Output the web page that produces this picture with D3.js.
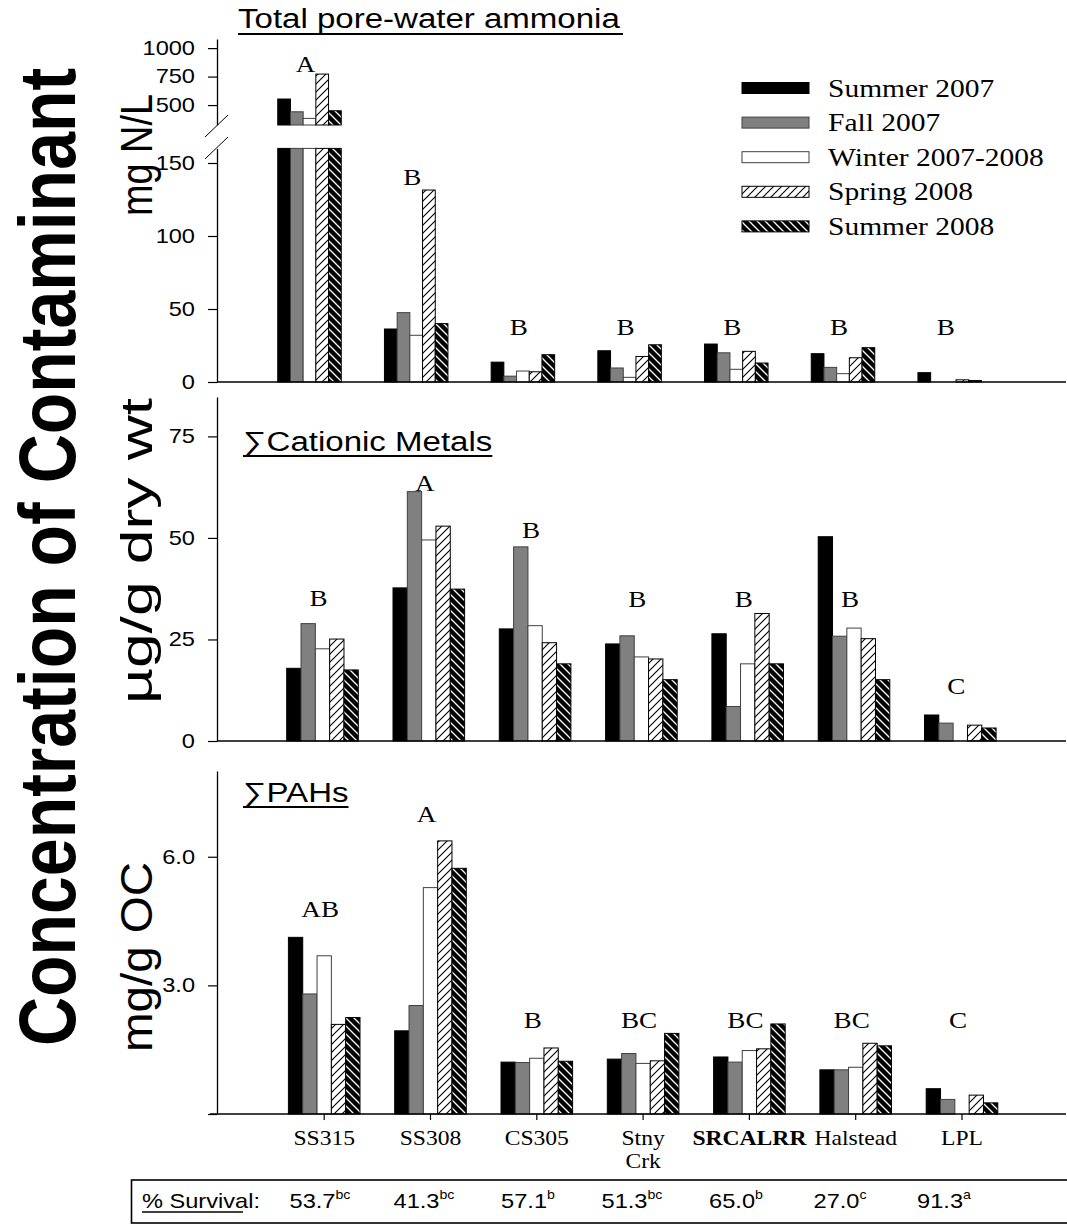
<!DOCTYPE html>
<html><head><meta charset="utf-8">
<script src="https://cdn.jsdelivr.net/npm/d3@7"></script>
<style>body{margin:0;background:#fff}svg{display:block}</style>
</head><body>
<svg id="chart" width="1067" height="1226"></svg>
<script>
// ---------------- DATA ----------------
const sites = ["SS315", "SS308", "CS305", "Stny Crk", "SRCALRR", "Halstead", "LPL"];
const seasons = ["Summer 2007", "Fall 2007", "Winter 2007-2008", "Spring 2008", "Summer 2008"];

// Total pore-water ammonia (mg N/L); one row per season, one value per site
const ammonia = [
  [553, 36.3, 13.6, 21.4, 26.0, 19.4, 6.4],
  [441, 47.5, 4.0, 9.6, 20.0, 10.0, 0],
  [383, 32.0, 7.5, 3.2, 8.7, 5.7, 0],
  [772, 131.5, 7.0, 17.5, 21.0, 16.6, 1.5],
  [450, 40.0, 18.7, 25.5, 13.0, 23.5, 1.0]
];
const ammoniaLetters = ["A", "B", "B", "B", "B", "B", "B"];
const ammoniaLetterAt = [793, 135, 32, 32, 32, 32, 32];
const ammoniaTicksLow = [0, 50, 100, 150];
const ammoniaTicksHigh = [500, 750, 1000];

// Sum of cationic metals (ug/g dry wt)
const metals = [
  [17.9, 37.7, 27.6, 23.9, 26.4, 50.3, 6.4],
  [28.9, 61.4, 47.8, 25.9, 8.5, 25.8, 4.4],
  [22.7, 49.5, 28.4, 20.7, 19.0, 27.8, 0],
  [25.1, 52.9, 24.2, 20.2, 31.4, 25.2, 3.9],
  [17.5, 37.4, 19.0, 15.1, 19.0, 15.1, 3.2]
];
const metalsLetters = ["B", "A", "B", "B", "B", "B", "C"];
const metalsLetterAt = [33.3, 61.5, 49.9, 33.1, 33.1, 33.1, 11.6];
const metalsTicks = [0, 25, 50, 75];

// Sum of PAHs (mg/g OC)
const pahs = [
  [4.12, 1.94, 1.21, 1.28, 1.33, 1.03, 0.59],
  [2.80, 2.53, 1.20, 1.41, 1.21, 1.03, 0.34],
  [3.69, 5.28, 1.30, 1.18, 1.48, 1.09, 0],
  [2.09, 6.37, 1.54, 1.24, 1.52, 1.65, 0.44],
  [2.25, 5.73, 1.23, 1.88, 2.10, 1.59, 0.26]
];
const pahsLetters = ["AB", "A", "B", "BC", "BC", "BC", "C"];
const pahsLetterAt = [4.6, 6.81, 2.0, 2.0, 2.0, 2.0, 2.0];
const pahsTicks = [0, 3, 6];

// % survival row
const survival = ["53.7", "41.3", "57.1", "51.3", "65.0", "27.0", "91.3"];
const survivalSig = ["bc", "bc", "b", "bc", "b", "c", "a"];

// ---------------- DRAWING ----------------
const SX = 1.18; // the figure is horizontally stretched
const SANS = "'Liberation Sans', Arial, sans-serif";
const SERIF = "'Liberation Serif', 'Times New Roman', serif";
const svg = d3.select("#chart");
const defs = svg.append("defs");

const sp = defs.append("pattern").attr("id", "hatchSpring").attr("patternUnits", "userSpaceOnUse")
  .attr("width", 8).attr("height", 8);
sp.append("rect").attr("width", 8).attr("height", 8).attr("fill", "#fff");
sp.append("path").attr("d", "M-2,2 L2,-2 M0,8 L8,0 M6,10 L10,6").attr("stroke", "#000").attr("stroke-width", 1.1);

const su = defs.append("pattern").attr("id", "hatchSummer").attr("patternUnits", "userSpaceOnUse")
  .attr("width", 8).attr("height", 8);
su.append("rect").attr("width", 8).attr("height", 8).attr("fill", "#000");
su.append("path").attr("d", "M-2,6 L2,10 M0,0 L8,8 M6,-2 L10,2").attr("stroke", "#fff").attr("stroke-width", 1.3);

const fills = ["#000", "#808080", "#fff", "url(#hatchSpring)", "url(#hatchSummer)"];
const strokes = ["#000", "#404040", "#404040", "#000", "#000"];

function stext(g, x, y, str, size, family, opt = {}) {
  const t = g.append("text")
    .attr("transform", `translate(${x},${y}) scale(${SX},1)` + (opt.rotate ? " rotate(-90)" : ""))
    .attr("font-family", family).attr("font-size", size)
    .attr("text-anchor", opt.anchor || "middle")
    .attr("font-weight", opt.weight || "normal")
    .attr("fill", "#000").text(str);
  if (opt.length) t.attr("textLength", opt.length).attr("lengthAdjust", "spacingAndGlyphs");
  return t;
}

function styleAxis(g) {
  g.selectAll("path.domain").attr("stroke", "#000").attr("stroke-width", 1.3);
  g.selectAll(".tick line").attr("stroke", "#000").attr("stroke-width", 1.2);
  g.selectAll(".tick text").attr("font-family", SANS).attr("font-size", 20).attr("fill", "#000")
    .attr("x", -22 / SX).attr("transform", `scale(${SX},1)`);
}

const xLeft = 217, xRight = 1066;

// ===== Panel 1: ammonia (broken axis) =====
const xTop = d3.scalePoint().domain(sites).range([309.5, 949.7]);
const xInTop = d3.scaleBand().domain(seasons).range([-31.75, 31.75]);
const yLow = d3.scaleLinear().domain([0, 160]).range([382, 148.4]);
const yHigh = d3.scaleLinear().domain([325, 1080]).range([125, 39]);
const p1 = svg.append("g");

seasons.forEach((s, si) => {
  ammonia[si].forEach((v, ci) => {
    if (v <= 0) return;
    const x = xTop(sites[ci]) + xInTop(s);
    const w = xInTop.bandwidth();
    const low = Math.min(v, 160);
    p1.append("rect").attr("x", x).attr("width", w)
      .attr("y", yLow(low)).attr("height", yLow(0) - yLow(low))
      .attr("fill", fills[si]).attr("stroke", strokes[si]).attr("stroke-width", 1);
    if (v > 160) {
      p1.append("rect").attr("x", x).attr("width", w)
        .attr("y", yHigh(v)).attr("height", yHigh(325) - yHigh(v))
        .attr("fill", fills[si]).attr("stroke", strokes[si]).attr("stroke-width", 1);
    }
  });
});
const axLow = p1.append("g").attr("transform", `translate(${xLeft},0)`)
  .call(d3.axisLeft(yLow).tickValues(ammoniaTicksLow).tickSize(9).tickSizeOuter(0).tickFormat(d3.format("d")));
styleAxis(axLow);
const axHigh = p1.append("g").attr("transform", `translate(${xLeft},0)`)
  .call(d3.axisLeft(yHigh).tickValues(ammoniaTicksHigh).tickSize(9).tickSizeOuter(0).tickFormat(d3.format("d")));
styleAxis(axHigh);
// break marks
p1.append("path").attr("d", `M205,137 L228,115 M205,159 L228,137`).attr("stroke", "#000").attr("stroke-width", 1);
// x baseline
p1.append("line").attr("x1", xLeft).attr("x2", xRight).attr("y1", yLow(0)).attr("y2", yLow(0))
  .attr("stroke", "#000").attr("stroke-width", 1.3);
// letters
ammoniaLetters.forEach((L, ci) => {
  const v = ammoniaLetterAt[ci];
  const y = v > 160 ? yHigh(v) : yLow(v);
  stext(p1, xTop(sites[ci]) - 4, y, L, 23, SERIF);
});
// title
stext(p1, 238, 28, "Total pore-water ammonia", 28, SANS, { anchor: "start" });
p1.append("line").attr("x1", 238).attr("x2", 623).attr("y1", 34).attr("y2", 34).attr("stroke", "#000").attr("stroke-width", 2);

// legend
const lg = svg.append("g");
seasons.forEach((s, si) => {
  const cy = 88 + si * 34.6;
  lg.append("rect").attr("x", 742).attr("y", cy - 5.5).attr("width", 67).attr("height", 11)
    .attr("fill", fills[si]).attr("stroke", strokes[si]).attr("stroke-width", 1);
  stext(lg, 828, cy + 8.5, s, 25, SERIF, { anchor: "start" });
});

// ===== generic panel =====
function panel(data, letters, letterAt, ticks, yDomain, yRange, xRange, title, titleY, tickFmt, extendLeft) {
  const g = svg.append("g");
  const x = d3.scalePoint().domain(sites).range(xRange);
  const xIn = d3.scaleBand().domain(seasons).range([-35.8, 35.8]);
  const y = d3.scaleLinear().domain(yDomain).range(yRange);
  seasons.forEach((s, si) => {
    data[si].forEach((v, ci) => {
      if (v <= 0) return;
      g.append("rect").attr("x", x(sites[ci]) + xIn(s)).attr("width", xIn.bandwidth())
        .attr("y", y(v)).attr("height", y(0) - y(v))
        .attr("fill", fills[si]).attr("stroke", strokes[si]).attr("stroke-width", 1);
    });
  });
  const ax = g.append("g").attr("transform", `translate(${xLeft},0)`)
    .call(d3.axisLeft(y).tickValues(ticks).tickSize(9).tickSizeOuter(0).tickFormat(tickFmt));
  styleAxis(ax);
  g.append("line").attr("x1", xLeft - extendLeft).attr("x2", xRight).attr("y1", y(0)).attr("y2", y(0))
    .attr("stroke", "#000").attr("stroke-width", 1.3);
  letters.forEach((L, ci) => stext(g, x(sites[ci]) - 4, y(letterAt[ci]), L, 23, SERIF));
  const t = stext(g, 243, titleY, title, 28, SANS, { anchor: "start" });
  const bb = t.node().getBBox();
  g.append("line").attr("x1", 243).attr("x2", 243 + bb.width * SX).attr("y1", titleY + 5).attr("y2", titleY + 5)
    .attr("stroke", "#000").attr("stroke-width", 2);
  return { g, x, y };
}

panel(metals, metalsLetters, metalsLetterAt, metalsTicks, [0, 84.7], [741, 397], [322.5, 960.3],
  "\u2211Cationic Metals", 451, d3.format("d"), 0);

const bottom = panel(pahs, pahsLetters, pahsLetterAt, pahsTicks, [0, 8], [1114, 771], [324.2, 962],
  "\u2211PAHs", 802, d => d === 0 ? "" : d3.format(".1f")(d), 7);

// bottom category ticks + labels
const bx = bottom.x;
sites.forEach(s => {
  bottom.g.append("line").attr("x1", bx(s)).attr("x2", bx(s)).attr("y1", 1114).attr("y2", 1120)
    .attr("stroke", "#000").attr("stroke-width", 1.2);
  const parts = s.split(" ");
  parts.forEach((p, i) => {
    stext(bottom.g, bx(s), 1145 + i * 23, p, 20, SERIF, { weight: s === "SRCALRR" ? "bold" : "normal" });
  });
});

// ===== axis titles =====
stext(svg, 75, 557, "Concentration of Contaminant", 68, SANS, { rotate: true, weight: "bold" });
stext(svg, 152, 155, "mg N/L", 38, SANS, { rotate: true, length: 122 });
stext(svg, 152, 551, "\u00b5g/g dry wt", 38, SANS, { rotate: true, length: 306 });
stext(svg, 152, 957, "mg/g OC", 38, SANS, { rotate: true, length: 190 });

// ===== survival table =====
const tb = svg.append("g");
tb.append("rect").attr("x", 131.5).attr("y", 1180).attr("width", 960).attr("height", 43)
  .attr("fill", "none").attr("stroke", "#000").attr("stroke-width", 1.6);
stext(tb, 142, 1208, "% Survival:", 20, SANS, { anchor: "start" });
tb.append("line").attr("x1", 142).attr("x2", 243).attr("y1", 1212).attr("y2", 1212).attr("stroke", "#000").attr("stroke-width", 1.5);
const xs = d3.scalePoint().domain(sites).range([320, 944]);
survival.forEach((v, i) => {
  const t = stext(tb, xs(sites[i]), 1208, "", 20, SANS);
  t.append("tspan").text(v);
  t.append("tspan").attr("font-size", 12).attr("dy", -9).text(survivalSig[i]);
});
</script>
</body></html>
